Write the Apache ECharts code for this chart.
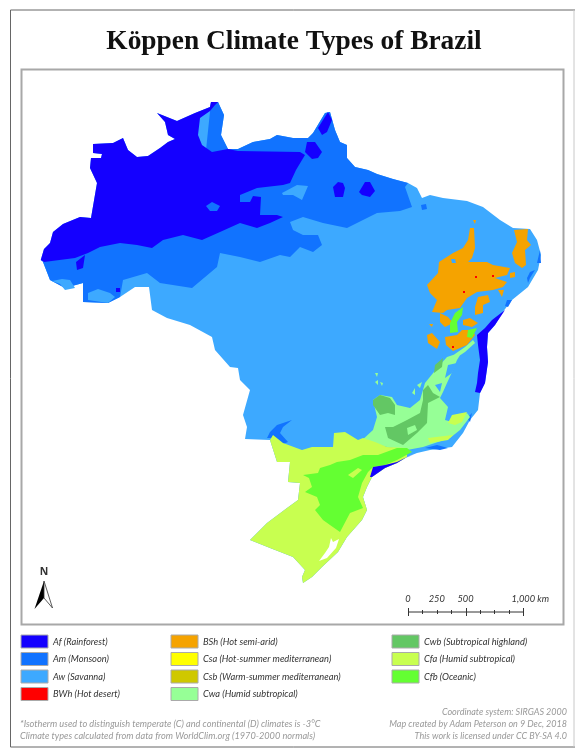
<!DOCTYPE html>
<html>
<head>
<meta charset="utf-8">
<title>Köppen Climate Types of Brazil</title>
<script src="https://cdn.jsdelivr.net/npm/echarts@6/dist/echarts.min.js"></script>
<style>
  html, body { margin: 0; padding: 0; background: #fff; }
  #chart { width: 575px; height: 754px; }
</style>
</head>
<body>
<div id="chart"></div>
<script>
// all map rings are [lon, lat]
var awOutline = [[-74.02,-7.52],[-73.76,-6.64],[-73.28,-6.16],[-73.04,-5.28],[-72.24,-4.64],[-70.88,-4.08],[-70,-4.16],[-69.52,-1.36],[-70.08,-0.16],[-70,0.64],[-69.2,0.64],[-69.12,0.96],[-69.84,1.04],[-69.84,1.76],[-68.24,1.84],[-67.44,2.24],[-67.04,1.28],[-66.32,0.72],[-65.44,0.8],[-64.48,1.44],[-63.84,1.92],[-63.28,2.16],[-63.84,2.48],[-64.08,3.52],[-64.72,4.24],[-63.12,3.6],[-61.68,4.24],[-60.48,4.72],[-60.4,5.12],[-59.84,5.12],[-59.36,4.08],[-59.6,2.48],[-59.04,1.36],[-58.24,1.36],[-57.04,1.92],[-55.68,2.16],[-55.12,2.48],[-53.84,2.24],[-52.64,2.24],[-52.24,2.64],[-51.28,4.24],[-50.88,4.32],[-50.48,2.88],[-50.08,1.92],[-49.52,1.68],[-49.52,0.64],[-48.88,-0.08],[-47.84,-0.32],[-47.12,-0.64],[-45.84,-1.04],[-44.64,-1.36],[-43.92,-1.76],[-43.52,-2.56],[-42.88,-2.32],[-41.84,-2.56],[-39.92,-2.8],[-38.64,-3.28],[-37.28,-4.32],[-36.24,-4.96],[-34.88,-5.04],[-34.32,-5.92],[-34,-7.12],[-34.24,-8.32],[-35.04,-9.68],[-36.32,-10.72],[-37.12,-11.76],[-37.68,-12.72],[-38.24,-13.36],[-38.32,-14.48],[-38.24,-15.68],[-38.48,-17.36],[-38.88,-18.16],[-39.04,-19.52],[-39.68,-20.32],[-40.24,-21.36],[-41.12,-22.48],[-42.88,-22.72],[-43.92,-22.96],[-44.72,-23.28],[-45.52,-23.76],[-46.48,-24.16],[-47.52,-24.88],[-47.92,-25.68],[-48.24,-26.48],[-47.92,-27.52],[-48.32,-28.32],[-49.52,-29.68],[-50.24,-30.88],[-51.52,-32.08],[-52.32,-32.88],[-53.04,-33.36],[-53.12,-32.88],[-52.88,-32.32],[-53.84,-31.28],[-55.68,-30.56],[-57.28,-29.92],[-55.92,-28.56],[-54.32,-27.36],[-53.44,-26.72],[-53.28,-25.36],[-54.24,-25.28],[-54.08,-23.68],[-55.12,-23.68],[-55.68,-21.92],[-57.68,-21.84],[-57.52,-20.88],[-57.84,-19.92],[-57.28,-17.92],[-58.08,-17.12],[-58.24,-16.16],[-58.88,-16.08],[-60.08,-14.72],[-60.32,-13.68],[-62.08,-12.72],[-63.92,-12.16],[-65.12,-11.52],[-65.36,-9.68],[-66.48,-9.68],[-67.68,-10.48],[-68.64,-10.96],[-70.64,-10.88],[-70.64,-9.36],[-72.08,-9.76],[-73.28,-9.12],[-73.84,-7.68]];

var amMain = [[-73.84,-7.68],[-73.28,-9.12],[-72.08,-9.76],[-70.64,-9.36],[-70.64,-10.88],[-68.64,-10.96],[-67.68,-10.48],[-67.44,-9.12],[-65.52,-8.56],[-64.48,-9.36],[-61.92,-9.76],[-59.92,-8.08],[-59.68,-6.96],[-58.08,-7.28],[-56.48,-7.68],[-54.88,-7.12],[-54.08,-7.28],[-53.28,-6.48],[-52.24,-6.88],[-51.52,-6.32],[-51.84,-5.52],[-53.04,-5.52],[-53.84,-5.12],[-54.08,-4.48],[-53.04,-4.08],[-51.44,-4.56],[-49.52,-4.96],[-48.24,-4.32],[-47.12,-3.76],[-45.28,-3.6],[-44.32,-3.28],[-44.88,-1.68],[-44.64,-1.36],[-45.84,-1.04],[-47.12,-0.64],[-47.84,-0.32],[-48.88,-0.08],[-49.52,0.64],[-49.52,1.68],[-50.08,1.92],[-50.48,2.88],[-50.88,4.32],[-51.28,4.24],[-52.24,2.64],[-52.64,2.24],[-53.84,2.24],[-55.12,2.48],[-55.68,2.16],[-57.04,1.92],[-58.24,1.36],[-59.04,1.36],[-59.6,2.48],[-59.36,4.08],[-59.84,5.12],[-60.4,5.12],[-60.88,0.48],[-68,-4],[-71.5,-6.5]];
var amIslands = [
  [[-60.8,-3.2],[-60.32,-2.88],[-59.68,-3.2],[-59.92,-3.6],[-60.48,-3.6]],
  [[-55.92,-21.76],[-55.68,-21.28],[-55.12,-20.72],[-53.92,-20.32],[-54.64,-20.88],[-54.88,-21.36],[-54.24,-22.08],[-54.64,-22.24],[-55.28,-21.76]],
  [[-43.6,-3.12],[-43.2,-3.04],[-43.12,-3.44],[-43.52,-3.52]],
  [[-34.48,-8.32],[-34.88,-8.96],[-35.04,-9.36],[-35.12,-8.96],[-34.88,-8.48]],
  [[-34.08,-6.72],[-34,-7.76],[-34.32,-7.76]],
  [[-36.72,-10.72],[-36.32,-10.72],[-36.64,-11.28],[-36.88,-11.2]],
  [[-39.92,-20.16],[-39.52,-19.76],[-39.68,-20.48]],
  [[-43.28,-22.56],[-42.32,-22.32],[-41.44,-22.56],[-42.08,-22.72]]
];
var awInsets = [
  [[-73.12,-9.2],[-72.32,-9.04],[-71.68,-9.12],[-71.28,-9.76],[-72.08,-9.92],[-72.48,-9.44]],
  [[-70.24,-10.72],[-70.24,-10.16],[-69.44,-9.84],[-68.48,-10.16],[-68.08,-10.48],[-68.64,-10.96]],
  [[-54.72,-2.16],[-53.52,-1.52],[-52.64,-1.6],[-53.12,-2.72],[-53.84,-2.32],[-54.64,-2.32]]
];
var afMain = [[-74.02,-7.52],[-73.76,-7.68],[-71.28,-7.36],[-70.24,-6.96],[-69.28,-6.48],[-67.68,-6.16],[-66.32,-6.32],[-65.12,-6.56],[-64.24,-5.92],[-62.64,-5.52],[-61.12,-5.92],[-59.68,-5.28],[-58.08,-4.56],[-56.72,-4.96],[-55.68,-4.56],[-54.64,-4.08],[-55.12,-3.92],[-56.48,-3.92],[-56.4,-2.48],[-57.04,-2.4],[-57.28,-2.88],[-58.08,-2.88],[-58.08,-2.32],[-56.72,-1.76],[-54.64,-1.52],[-54.08,-1.36],[-53.6,-0.32],[-52.88,0.88],[-53.28,1.12],[-58.24,1.2],[-59.04,1.36],[-60.32,1.12],[-61.12,1.68],[-61.44,2.48],[-61.28,3.84],[-60.48,4.4],[-60.08,4.88],[-59.84,5.12],[-60.4,5.12],[-60.48,4.72],[-61.68,4.24],[-63.12,3.6],[-64.72,4.24],[-64.08,3.52],[-63.84,2.48],[-63.28,2.16],[-63.84,1.92],[-64.48,1.44],[-65.44,0.8],[-66.32,0.72],[-67.04,1.28],[-67.44,2.24],[-68.24,1.84],[-69.84,1.76],[-69.84,1.04],[-69.12,0.96],[-69.2,0.64],[-70,0.64],[-70.08,-0.16],[-69.52,-1.36],[-70,-4.16],[-70.88,-4.08],[-72.24,-4.64],[-73.04,-5.28],[-73.28,-6.16],[-73.76,-6.64]];
var afBlobs = [
  [[-51.84,3.04],[-51.04,4.32],[-50.72,3.68],[-51.12,2.72],[-51.52,2.48]],
  [[-52.72,1.92],[-52.08,1.92],[-51.52,1.12],[-51.84,0.64],[-52.32,0.56],[-52.88,1.12]],
  [[-50.64,-1.68],[-50.24,-1.28],[-49.84,-1.36],[-49.68,-1.76],[-49.84,-2.48],[-50.48,-2.48]],
  [[-48.56,-2.08],[-48.08,-1.28],[-47.68,-1.28],[-47.28,-2],[-47.68,-2.48],[-48.32,-2.32]],
  [[-71.2,-7.68],[-70.48,-7.12],[-70.64,-8.16],[-71.12,-8.32]],
  [[-68,-9.76],[-67.68,-9.76],[-67.68,-10.08],[-68,-10.08]],
  [[-36.88,-11.52],[-37.68,-12.72],[-38.24,-13.36],[-38.32,-14.48],[-38.24,-15.68],[-38.48,-17.36],[-38.88,-18.16],[-39.28,-18.08],[-39.12,-17.36],[-39.04,-16.56],[-38.88,-15.52],[-39.04,-14.32],[-39.12,-13.52],[-38.48,-12.96],[-37.92,-12.32]]
];
var afCoast = [[-47.68,-24.88],[-47.44,-24.08],[-46.48,-23.92],[-45.52,-23.68],[-44.88,-23.36],[-44.24,-23.12],[-44.72,-23.28],[-45.52,-23.76],[-46.48,-24.16],[-47.52,-24.88]];

var bshPatches = [
  [[-43.12,-9.52],[-42.24,-8.56],[-42.16,-7.68],[-41.04,-6.96],[-40.24,-6.56],[-39.84,-5.92],[-39.68,-4.96],[-39.36,-4.96],[-39.28,-6.56],[-39.52,-7.36],[-39.84,-7.68],[-38.32,-7.68],[-37.84,-7.92],[-36.48,-8.16],[-36.72,-8.72],[-37.68,-8.96],[-36.72,-9.28],[-37.04,-9.68],[-37.84,-9.92],[-39.12,-10.08],[-39.92,-10.56],[-40.48,-11.36],[-41.52,-11.52],[-41.84,-11.76],[-42.72,-11.68],[-42.32,-10.72],[-42.88,-10.16]],
  [[-36.16,-5.12],[-35.04,-5.04],[-35.12,-5.92],[-34.8,-6.32],[-35.28,-6.72],[-35.2,-7.92],[-35.52,-8.16],[-36.08,-7.76],[-36.32,-6.96],[-35.92,-6.08]],
  [[-39.04,-10.48],[-38.24,-10.32],[-38.08,-10.88],[-38.64,-11.12],[-38.64,-11.76],[-39.28,-11.92],[-39.28,-11.28]],
  [[-37.44,-9.92],[-36.96,-9.92],[-37.12,-10.48]],
  [[-36.48,-8.56],[-36.08,-8.48],[-36.08,-8.88],[-36.48,-8.96]],
  [[-42.08,-11.76],[-41.44,-12.08],[-41.04,-12.56],[-41.68,-12.88],[-42.08,-12.48]],
  [[-41.68,-13.68],[-40.72,-13.52],[-40.32,-13.12],[-39.52,-13.12],[-39.28,-13.52],[-39.92,-14.32],[-41.04,-14.8],[-41.6,-14.32]],
  [[-40.24,-12.32],[-39.68,-12.16],[-39.04,-12.56],[-39.52,-12.88],[-40.24,-12.72]],
  [[-43.12,-13.52],[-42.72,-13.36],[-42.08,-14.08],[-42.32,-14.64],[-43.04,-14.16]],
  [[-42.96,-12.64],[-42.64,-12.64],[-42.72,-12.88]],
  [[-39.44,-4.32],[-39.2,-4.32],[-39.28,-4.64]]
];
var awHole = [[-41.2,-7.44],[-40.88,-7.44],[-40.8,-7.76],[-41.12,-7.76]];
var bwhDots = [
  [[-39.28,-8.8],[-39.12,-8.8],[-39.12,-8.96],[-39.28,-8.96]],
  [[-37.92,-8.72],[-37.76,-8.72],[-37.76,-8.88],[-37.92,-8.88]],
  [[-40.24,-10],[-40.08,-10],[-40.08,-10.16],[-40.24,-10.16]],
  [[-41.12,-14.4],[-40.96,-14.4],[-40.96,-14.56],[-41.12,-14.56]]
];

var cwaMain = [[-48.48,-22.08],[-47.44,-21.12],[-47.12,-20.08],[-47.44,-18.72],[-46.88,-18.32],[-45.92,-18.48],[-45.52,-19.12],[-44.48,-19.36],[-43.68,-18.72],[-43.28,-17.36],[-42.24,-16.08],[-41.52,-15.28],[-40.32,-14.88],[-40.72,-15.52],[-41.04,-16.32],[-41.52,-17.36],[-41.84,-18.08],[-42.08,-18.56],[-41.44,-19.28],[-41.68,-20.32],[-41.12,-20.48],[-39.92,-19.76],[-39.68,-20.08],[-40.48,-21.12],[-41.28,-21.76],[-42.24,-22.08],[-43.44,-22.48],[-44.72,-22.72],[-46.32,-22.48],[-47.44,-22.16]];
var cwaBits = [
  [[-41.12,-15.2],[-40.08,-14.48],[-39.44,-13.92],[-39.28,-14.16],[-40.08,-14.88],[-40.8,-15.36]],
  [[-47.28,-17.28],[-47.04,-17.12],[-47.04,-17.52]],
  [[-47.28,-16.56],[-47.04,-16.56],[-47.12,-16.88]],
  [[-46.88,-17.28],[-46.64,-17.36],[-46.72,-17.6]],
  [[-44.32,-18.16],[-44.08,-17.76],[-44.08,-18.32]],
  [[-43.92,-17.52],[-43.52,-17.28],[-43.68,-17.76]]
];
var awGaps = [
  [[-41.44,-15.92],[-40.72,-15.76],[-41.12,-16.56],[-41.68,-16.96]],
  [[-42.48,-17.52],[-41.92,-17.36],[-42.08,-18.08]]
];
var cwbPatches = [
  [[-47.44,-18.72],[-46.88,-18.32],[-46.08,-18.56],[-45.68,-19.12],[-45.68,-19.92],[-46.24,-19.76],[-46.88,-19.92],[-47.44,-19.12]],
  [[-43.44,-17.92],[-43.04,-17.52],[-42.64,-18.16],[-42.08,-18.48],[-43.04,-18.96],[-43.12,-20.56],[-43.92,-21.36],[-45.04,-22.32],[-46.24,-21.76],[-46.48,-20.88],[-45.84,-20.88],[-44.72,-20.32],[-43.68,-19.76],[-43.44,-18.72]],
  [[-42.48,-15.92],[-41.84,-15.36],[-41.92,-16.08],[-42.56,-16.56]]
];
var cwaGap = [[-44.72,-20.96],[-44.08,-20.72],[-43.92,-21.12],[-44.64,-21.52]];

var cfaMain = [[-55.68,-21.92],[-55.44,-21.52],[-54.64,-22.16],[-53.12,-22.72],[-52.32,-22.48],[-50.64,-22.48],[-50.56,-21.36],[-49.68,-21.28],[-48.64,-21.92],[-48.24,-21.76],[-47.28,-22.08],[-46.32,-22.48],[-44.72,-22.56],[-44.72,-23.28],[-45.52,-23.76],[-46.48,-24.16],[-47.52,-24.88],[-47.92,-25.68],[-48.24,-26.48],[-47.92,-27.52],[-48.32,-28.32],[-49.52,-29.68],[-50.24,-30.88],[-51.52,-32.08],[-52.32,-32.88],[-53.04,-33.36],[-53.12,-32.88],[-52.88,-32.32],[-53.84,-31.28],[-55.68,-30.56],[-57.28,-29.92],[-55.92,-28.56],[-54.32,-27.36],[-53.44,-26.72],[-53.28,-25.36],[-54.24,-25.28],[-54.08,-23.68],[-55.12,-23.68]];
var cfaBits = [
  [[-41.12,-19.92],[-39.92,-19.68],[-40.32,-20.48],[-40.88,-20.72],[-41.44,-20.56]],
  [[-43.04,-21.76],[-41.04,-21.52],[-41.44,-21.92],[-42.88,-22.16]]
];
var cfbMain = [[-53.04,-24.72],[-51.84,-24.56],[-51.68,-24.16],[-50.88,-23.92],[-50.32,-23.68],[-49.28,-23.52],[-48.24,-23.12],[-47.04,-23.12],[-45.52,-22.56],[-44.72,-22.56],[-44.32,-22.88],[-45.52,-23.52],[-46.48,-23.92],[-47.44,-24.08],[-47.84,-24.48],[-48.32,-25.36],[-48.64,-26.48],[-48.24,-27.36],[-49.28,-27.76],[-50.08,-29.28],[-50.88,-28.72],[-51.44,-28.32],[-52.08,-27.52],[-51.68,-27.12],[-51.92,-26.48],[-52.88,-26.08],[-52.32,-25.68],[-52.56,-24.96]];
var cfbNorth = [
  [[-40.88,-11.76],[-40.24,-11.28],[-40.32,-11.92],[-40.72,-12.48],[-40.64,-13.28],[-41.28,-13.36],[-41.28,-12.56]],
  [[-39.84,-13.12],[-39.12,-12.96],[-39.52,-13.76],[-39.92,-13.68]]
];
var cfaStreak = [[-49.44,-24.72],[-48.64,-24.16],[-48.32,-24.32],[-49.04,-24.96]];
var lagoon = [[-51.76,-31.6],[-51.28,-30.96],[-50.96,-30.48],[-50.8,-29.76],[-50.64,-30.08],[-50.16,-29.84],[-50.4,-30.56],[-51.12,-31.36]];

// legend
var legendCodes = [
  ['Af', 'Am', 'Aw', 'BWh'],
  ['BSh', 'Csa', 'Csb', 'Cwa'],
  ['Cwb', 'Cfa', 'Cfb']
];
var legendNames = [
  ['Rainforest', 'Monsoon', 'Savanna', 'Hot desert'],
  ['Hot semi-arid', 'Hot-summer mediterranean', 'Warm-summer mediterranean', 'Humid subtropical'],
  ['Subtropical highland', 'Humid subtropical', 'Oceanic']
];
var climateColors = {
  Af: '#1400ff', Am: '#1173ff', Aw: '#3da9ff', BWh: '#ff0000', BSh: '#f5a300',
  Csa: '#ffff00', Csb: '#cfc800', Cwa: '#96ff96', Cwb: '#63c764', Cfa: '#c8ff50', Cfb: '#64ff32',
  water: '#ffffff'
};
var legendColumnX = [21, 171, 392];
var scaleLabels = ['0', '250', '500', '1,000 km'];
var scaleLabelKm = [0, 250, 500, 1000];
var footerLeft = [
  '*Isotherm used to distinguish temperate (C) and continental (D) climates is -3°C',
  'Climate types calculated from data from WorldClim.org (1970-2000 normals)'
];
var footerRight = [
  'Coordinate system: SIRGAS 2000',
  'Map created by Adam Peterson on 9 Dec, 2018',
  'This work is licensed under CC BY-SA 4.0'
];

// painted bottom to top, later layers cover earlier ones
var layers = [
  ['Aw', 'Aw', [awOutline]],
  ['Am', 'Am', [amMain]],
  ['Aw insets', 'Aw', awInsets],
  ['Af', 'Af', [afMain].concat(afBlobs)],
  ['Am islands', 'Am', amIslands],
  ['Cwa', 'Cwa', [cwaMain].concat(cwaBits)],
  ['Aw gaps', 'Aw', awGaps],
  ['Cwb', 'Cwb', cwbPatches],
  ['Cwa gap', 'Cwa', [cwaGap]],
  ['BSh', 'BSh', bshPatches],
  ['Aw hole', 'Aw', [awHole]],
  ['BWh', 'BWh', bwhDots],
  ['Cfa', 'Cfa', [cfaMain].concat(cfaBits)],
  ['Cfb', 'Cfb', [cfbMain].concat(cfbNorth)],
  ['Cfa streak', 'Cfa', [cfaStreak]],
  ['Water', 'water', [lagoon]],
  ['Af coast', 'Af', [afCoast]]
];

var geoJson = {
  type: 'FeatureCollection',
  features: layers.map(function (l) {
    return {
      type: 'Feature',
      properties: { name: l[0] },
      geometry: {
        type: 'MultiPolygon',
        coordinates: l[2].map(function (ring) {
          return [ring.concat([ring[0]])];
        })
      }
    };
  })
};
echarts.registerMap('brazil', geoJson);

var legendFont = 'italic 9.3px Lato, "Open Sans", sans-serif';
var graphics = [
  { type: 'rect', shape: { x: 10.5, y: 10, width: 570, height: 737 }, style: { fill: 'none', stroke: '#666', lineWidth: 1 } },
  { type: 'line', shape: { x1: 574, y1: 10, x2: 574, y2: 747 }, style: { stroke: '#c8c8c8', lineWidth: 1 } },
  { type: 'rect', shape: { x: 21.5, y: 69.5, width: 542, height: 555 }, style: { fill: 'none', stroke: '#a8a8a8', lineWidth: 2 } }
];

legendCodes.forEach(function (col, c) {
  col.forEach(function (code, r) {
    var y = 635 + r * 17.5;
    graphics.push({
      type: 'rect',
      shape: { x: legendColumnX[c], y: y, width: 27, height: 13 },
      style: { fill: climateColors[code], stroke: '#aaa', lineWidth: 1 }
    });
    graphics.push({
      type: 'text',
      x: legendColumnX[c] + 32,
      y: y + 6.5,
      style: { text: code + ' (' + legendNames[c][r] + ')', font: legendFont, fill: '#333', verticalAlign: 'middle' }
    });
  });
});

footerLeft.forEach(function (t, i) {
  graphics.push({
    type: 'text', x: 20, y: 724 + i * 12,
    style: { text: t, font: 'italic 9.2px Lato, "Open Sans", sans-serif', fill: '#999', verticalAlign: 'middle' }
  });
});
footerRight.forEach(function (t, i) {
  graphics.push({
    type: 'text', x: 567, y: 712.5 + i * 11.8,
    style: { text: t, font: 'italic 9px Lato, "Open Sans", sans-serif', fill: '#999', align: 'right', verticalAlign: 'middle' }
  });
});

// scale bar, 8 divisions over 1,000 km
var scaleX0 = 408, scalePxPerKm = 115 / 1000, scaleY = 612;
graphics.push({ type: 'line', shape: { x1: scaleX0, y1: scaleY, x2: scaleX0 + 115, y2: scaleY }, style: { stroke: '#333', lineWidth: 1 } });
for (var i = 0; i <= 8; i++) {
  var major = i % 4 === 0;
  var tx = Math.round(scaleX0 + i * 125 * scalePxPerKm) + 0.5;
  graphics.push({
    type: 'line',
    shape: { x1: tx, y1: scaleY - (major ? 4 : 2), x2: tx, y2: scaleY + (major ? 4 : 2) },
    style: { stroke: '#333', lineWidth: 1 }
  });
}
scaleLabels.forEach(function (t, i) {
  graphics.push({
    type: 'text', x: scaleX0 + scaleLabelKm[i] * scalePxPerKm + (i === 3 ? -11.5 : 0), y: 599,
    style: {
      text: t, font: legendFont, fill: '#333', verticalAlign: 'middle',
      align: i === 3 ? 'left' : 'center'
    }
  });
});

// north arrow
graphics.push({ type: 'text', x: 44, y: 572, style: { text: 'N', font: 'bold 10.5px "Open Sans", sans-serif', fill: '#333', align: 'center', verticalAlign: 'middle' } });
graphics.push({ type: 'polygon', shape: { points: [[44, 581], [34.5, 609], [44, 598]] }, style: { fill: '#000' } });
graphics.push({ type: 'polygon', shape: { points: [[44, 581], [52.5, 608], [44, 598]] }, style: { fill: '#fff', stroke: '#333', lineWidth: 0.8 } });

var chart = echarts.init(document.getElementById('chart'));
chart.setOption({
  animation: false,
  title: {
    text: 'Köppen Climate Types of Brazil',
    left: 289,
    top: 23,
    textAlign: 'center',
    textStyle: { fontFamily: '"Liberation Serif", serif', fontSize: 27.4, fontWeight: 'bold', color: '#111' }
  },
  series: [{
    type: 'map',
    map: 'brazil',
    silent: true,
    roam: false,
    aspectScale: 1,
    boundingCoords: [[-74, 6], [-34, -34]],
    left: 41,
    top: 91,
    width: 500,
    height: 500,
    label: { show: false },
    emphasis: { disabled: true },
    select: { disabled: true },
    itemStyle: { borderWidth: 0 },
    data: layers.map(function (l) {
      return { name: l[0], value: 1, itemStyle: { areaColor: climateColors[l[1]], borderWidth: 0 } };
    })
  }],
  graphic: graphics
});
</script>
</body>
</html>
